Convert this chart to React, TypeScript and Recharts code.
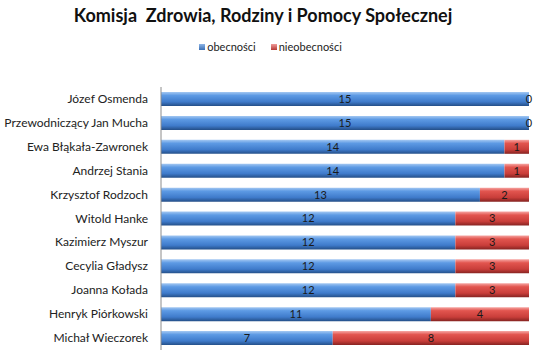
import React from "react";
import { BarChart, Bar, XAxis, YAxis, LabelList, Legend } from "recharts";

const names = [
  "Józef Osmenda",
  "Przewodniczący Jan Mucha",
  "Ewa Błąkała-Zawronek",
  "Andrzej Stania",
  "Krzysztof Rodzoch",
  "Witold Hanke",
  "Kazimierz Myszur",
  "Cecylia Gładysz",
  "Joanna Kołada",
  "Henryk Piórkowski",
  "Michał Wieczorek",
];
const present = [15, 15, 14, 14, 13, 12, 12, 12, 12, 11, 7];
const absent = [0, 0, 1, 1, 2, 3, 3, 3, 3, 4, 8];

const data = names.map((name, i) => ({
  name,
  obecnosci: present[i],
  nieobecnosci: absent[i],
}));

const FONT = "Lato, 'Open Sans', sans-serif";
const labelStyle = { fontFamily: FONT, fontSize: 11, fill: "#1a1a1a" };

const LegendContent = () => (
  <div
    style={{
      display: "flex",
      justifyContent: "center",
      fontFamily: FONT,
      fontSize: 11,
      color: "#222",
      marginLeft: -18,
    }}
  >
    <span style={{ display: "flex", alignItems: "center", marginRight: 15 }}>
      <span
        style={{
          width: 6,
          height: 6,
          background: "linear-gradient(#8db4e6, #3a6fb5)",
          marginRight: 2,
          display: "inline-block",
        }}
      />
      obecności
    </span>
    <span style={{ display: "flex", alignItems: "center" }}>
      <span
        style={{
          width: 6,
          height: 6,
          background: "linear-gradient(#f09c9a, #b53a37)",
          marginRight: 2,
          display: "inline-block",
        }}
      />
      nieobecności
    </span>
  </div>
);

const NameTick = (props: any) => {
  const { x, y, payload } = props;
  return (
    <text
      x={x}
      y={y}
      dy={4}
      textAnchor="end"
      style={{ fontFamily: FONT, fontSize: 12, fill: "#222" }}
    >
      {payload.value}
    </text>
  );
};

// "0" absences sit at the end of the blue bar
const ZeroLabel = (props: any) => {
  const { x, y, width, height, value } = props;
  if (value !== 0) return null;
  return (
    <text
      x={x + width}
      y={y + height / 2}
      dy={4}
      textAnchor="middle"
      style={labelStyle}
    >
      0
    </text>
  );
};

export default function App() {
  return (
    <div
      style={{
        position: "absolute",
        left: 0,
        top: 0,
        width: 559,
        height: 356,
        background: "#fff",
      }}
    >
      <div
        style={{
          position: "absolute",
          top: 4,
          left: 0,
          width: 526,
          textAlign: "center",
          fontFamily: FONT,
          fontWeight: "bold",
          fontSize: 18,
          color: "#111",
          whiteSpace: "pre",
        }}
      >
        {"Komisja  Zdrowia, Rodziny i Pomocy Społecznej"}
      </div>
      <BarChart
        width={559}
        height={356}
        data={data}
        layout="vertical"
        margin={{ top: 74, right: 30, bottom: 6, left: 0 }}
      >
        <defs>
          <linearGradient id="blueGrad" x1="0" y1="0" x2="0" y2="1">
            <stop offset="0%" stopColor="#a4c8f2" />
            <stop offset="25%" stopColor="#5d9ae4" />
            <stop offset="70%" stopColor="#3f7bcb" />
            <stop offset="100%" stopColor="#244f88" />
          </linearGradient>
          <linearGradient id="redGrad" x1="0" y1="0" x2="0" y2="1">
            <stop offset="0%" stopColor="#f6a6a3" />
            <stop offset="25%" stopColor="#e2554f" />
            <stop offset="70%" stopColor="#c93e3a" />
            <stop offset="100%" stopColor="#862321" />
          </linearGradient>
        </defs>
        <XAxis type="number" domain={[0, 15]} hide />
        <YAxis
          type="category"
          dataKey="name"
          width={161}
          tickLine={false}
          axisLine={{ stroke: "#8c8c8c" }}
          tickSize={0}
          tickMargin={13}
          interval={0}
          tick={<NameTick />}
        />
        <Legend
          verticalAlign="top"
          wrapperStyle={{ top: 40, left: 0, width: 559 }}
          content={<LegendContent />}
        />
        <Bar
          dataKey="obecnosci"
          stackId="a"
          fill="url(#blueGrad)"
          barSize={14}
          isAnimationActive={false}
        >
          <LabelList dataKey="obecnosci" position="center" style={labelStyle} />
          <LabelList dataKey="nieobecnosci" content={<ZeroLabel />} />
        </Bar>
        <Bar
          dataKey="nieobecnosci"
          stackId="a"
          fill="url(#redGrad)"
          barSize={14}
          isAnimationActive={false}
        >
          <LabelList
            dataKey="nieobecnosci"
            position="center"
            style={labelStyle}
          />
        </Bar>
      </BarChart>
    </div>
  );
}
